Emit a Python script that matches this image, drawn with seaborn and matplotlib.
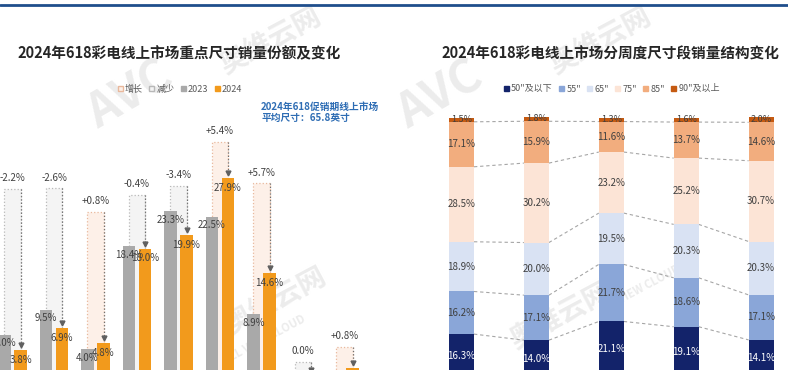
import numpy as np
import pandas as pd
import matplotlib
matplotlib.use("Agg")
import matplotlib.pyplot as plt
from matplotlib.patches import Patch
from matplotlib.lines import Line2D
import seaborn as sns

# Left chart: key sizes share (%), 2023 vs 2024
sizes = ['32"', '43"', '50"', '55"', '65"', '75"', '85"', '98"', '100"+']
share_2023 = [6.0, 9.5, 4.0, 18.4, 23.3, 22.5, 8.9, 0.4, 0.5]
share_2024 = [3.8, 6.9, 4.8, 18.0, 19.9, 27.9, 14.6, 0.4, 1.3]
change_labels = ["-2.2%", "-2.6%", "+0.8%", "-0.4%", "-3.4%", "+5.4%", "+5.7%", "0.0%", "+0.8%"]
change_box_top = [26.4, 26.5, 23.2, 25.6, 26.8, 33.0, 27.2, 2.2, 4.3]

# Right chart: weekly size-segment structure (%)
weeks = ["第1周", "第2周", "第3周", "第4周", "第5周"]
segments = ['50"及以下', '55"', '65"', '75"', '85"', '90"及以上']
seg_50 = [16.3, 14.0, 21.1, 19.1, 14.1]
seg_55 = [16.2, 17.1, 21.7, 18.6, 17.1]
seg_65 = [18.9, 20.0, 19.5, 20.3, 20.3]
seg_75 = [28.5, 30.2, 23.2, 25.2, 30.7]
seg_85 = [17.1, 15.9, 11.6, 13.7, 14.6]
seg_90 = [1.5, 1.8, 1.3, 1.6, 2.0]

GRAY = "#a9a9a9"
ORANGE = "#f29a1c"
UP_FILL, UP_EDGE = "#fdf0e8", "#e9b89c"
DOWN_FILL, DOWN_EDGE = "#f4f4f4", "#b8b8b8"
seg_colors = ["#13236a", "#8aa6d8", "#d9e2f3", "#fce4d6", "#f2ad7e", "#c55a11"]
TXT = "#404040"

sns.set_style("white")
plt.rcParams["font.family"] = ["Noto Sans CJK SC", "DejaVu Sans"]

fig = plt.figure(figsize=(7.88, 3.70), dpi=100)

# faint watermarks
wm = dict(color="#ececec", zorder=-1, ha="center", va="center", fontweight="bold")
fig.text(130 / 788, 1 - 95 / 370, "AVC", fontsize=34, rotation=30, style="italic", **wm)
fig.text(270 / 788, 1 - 40 / 370, "奥维云网", fontsize=20, rotation=28, **wm)
fig.text(275 / 788, 1 - 300 / 370, "奥维云网", fontsize=20, rotation=28, **wm)
fig.text(265 / 788, 1 - 340 / 370, "ALL VIEW CLOUD", fontsize=8, rotation=28, **wm)
fig.text(440 / 788, 1 - 95 / 370, "AVC", fontsize=34, rotation=30, style="italic", **wm)
fig.text(600 / 788, 1 - 40 / 370, "奥维云网", fontsize=20, rotation=28, **wm)
fig.text(560 / 788, 1 - 315 / 370, "奥维云网", fontsize=20, rotation=28, **wm)
fig.text(640 / 788, 1 - 290 / 370, "ALL VIEW CLOUD", fontsize=8, rotation=28, **wm)

# top rule
fig.add_artist(Line2D([0, 1], [1 - 5 / 370] * 2, color="#1f4e8c", lw=2, transform=fig.transFigure))

# ---------------- left chart ----------------
axL = fig.add_axes([0, -0.0203, 0.5, 0.8581])
axL.patch.set_alpha(0)
off = 0.193
for i, (top, lab) in enumerate(zip(change_box_top, change_labels)):
    up = lab.startswith("+")
    axL.bar(i, top, width=2 * off, color=UP_FILL if up else DOWN_FILL,
            edgecolor=UP_EDGE if up else DOWN_EDGE, linestyle=":", linewidth=0.9, zorder=1)

df_left = pd.DataFrame({
    "size": sizes * 2,
    "year": ["2023"] * len(sizes) + ["2024"] * len(sizes),
    "share": share_2023 + share_2024,
})
sns.barplot(data=df_left, x="size", y="share", hue="year", order=sizes,
            palette={"2023": GRAY, "2024": ORANGE}, width=0.77, gap=0.22,
            saturation=1, linewidth=0, errorbar=None, legend=False, ax=axL, zorder=2)

for i in range(len(sizes)):
    top = change_box_top[i]
    v3, v4 = share_2023[i], share_2024[i]
    axL.plot([i + off, i + off], [top, v4 + 0.9], ls=":", color="#707070", lw=0.9, zorder=3)
    axL.plot(i + off, v4 + 0.7, marker="v", ms=3.5, color="#606060", zorder=3)
    axL.text(i, top + 1.5, change_labels[i], ha="center", va="center", fontsize=7, color=TXT)
    axL.text(i - off, v3 - 1.2, f"{v3:.1f}%", ha="center", va="center", fontsize=7, color=TXT, zorder=4)
    axL.text(i + off, v4 - 1.3, f"{v4:.1f}%", ha="center", va="center", fontsize=7, color=TXT, zorder=4)

axL.set_xlim(-0.301, 9.193)
axL.set_ylim(0, 44.47)
axL.set_axis_off()

fig.text(179 / 788, 1 - 53 / 370, "2024年618彩电线上市场重点尺寸销量份额及变化",
         ha="center", va="center", fontsize=10.5, fontweight="bold", color="#262626")
fig.text(261 / 788, 1 - 107 / 370, "2024年618促销期线上市场", ha="left", va="center",
         fontsize=7, fontweight="bold", color="#2e6db4")
fig.text(261 / 788, 1 - 118 / 370, "平均尺寸：65.8英寸", ha="left", va="center",
         fontsize=7, fontweight="bold", color="#2e6db4")

left_handles = [
    Patch(facecolor=UP_FILL, edgecolor=UP_EDGE, label="增长"),
    Patch(facecolor=DOWN_FILL, edgecolor=DOWN_EDGE, label="减少"),
    Patch(color=GRAY, label="2023"),
    Patch(color=ORANGE, label="2024"),
]
legL = fig.legend(handles=left_handles, loc="center", bbox_to_anchor=(180 / 788, 1 - 89 / 370),
                  ncol=4, frameon=False, fontsize=6.5, handlelength=0.55, handleheight=0.55,
                  handletextpad=0.25, columnspacing=0.7)
for t in legL.get_texts():
    t.set_color("#595959")

# ---------------- right chart ----------------
axR = fig.add_axes([0.5, -0.0189, 0.5, 0.8568])
axR.patch.set_alpha(0)
stack = np.array([seg_50, seg_55, seg_65, seg_75, seg_85, seg_90])
cum = stack.cumsum(axis=0)
half = 0.167
for k in reversed(range(len(segments))):
    sns.barplot(x=weeks, y=cum[k], order=weeks, color=seg_colors[k], width=2 * half,
                saturation=1, linewidth=0, errorbar=None, ax=axR, zorder=2)

for k in range(len(segments) - 1):
    for i in range(len(weeks) - 1):
        axR.plot([i + half, i + 1 - half], [cum[k, i], cum[k, i + 1]],
                 ls=(0, (3, 2.5)), color="#a6a6a6", lw=0.8, zorder=1)

for k in range(len(segments)):
    for i in range(len(weeks)):
        v = stack[k, i]
        axR.text(i, cum[k, i] - v / 2, f"{v:.1f}%", ha="center", va="center",
                 fontsize=7 if k < 5 else 6.5, color="white" if k == 0 else TXT, zorder=4)

axR.set_xlim(-0.901, 4.359)
axR.set_ylim(0, 120.5)
axR.set_axis_off()

fig.text(610 / 788, 1 - 54 / 370, "2024年618彩电线上市场分周度尺寸段销量结构变化",
         ha="center", va="center", fontsize=10.5, fontweight="bold", color="#262626")

right_handles = [Patch(color=c, label=s) for c, s in zip(seg_colors, segments)]
legR = fig.legend(handles=right_handles, loc="center", bbox_to_anchor=(612 / 788, 1 - 89 / 370),
                  ncol=6, frameon=False, fontsize=6.5, handlelength=0.55, handleheight=0.55,
                  handletextpad=0.25, columnspacing=0.7)
for t in legR.get_texts():
    t.set_color("#595959")

fig.savefig("out.png", dpi=100)
